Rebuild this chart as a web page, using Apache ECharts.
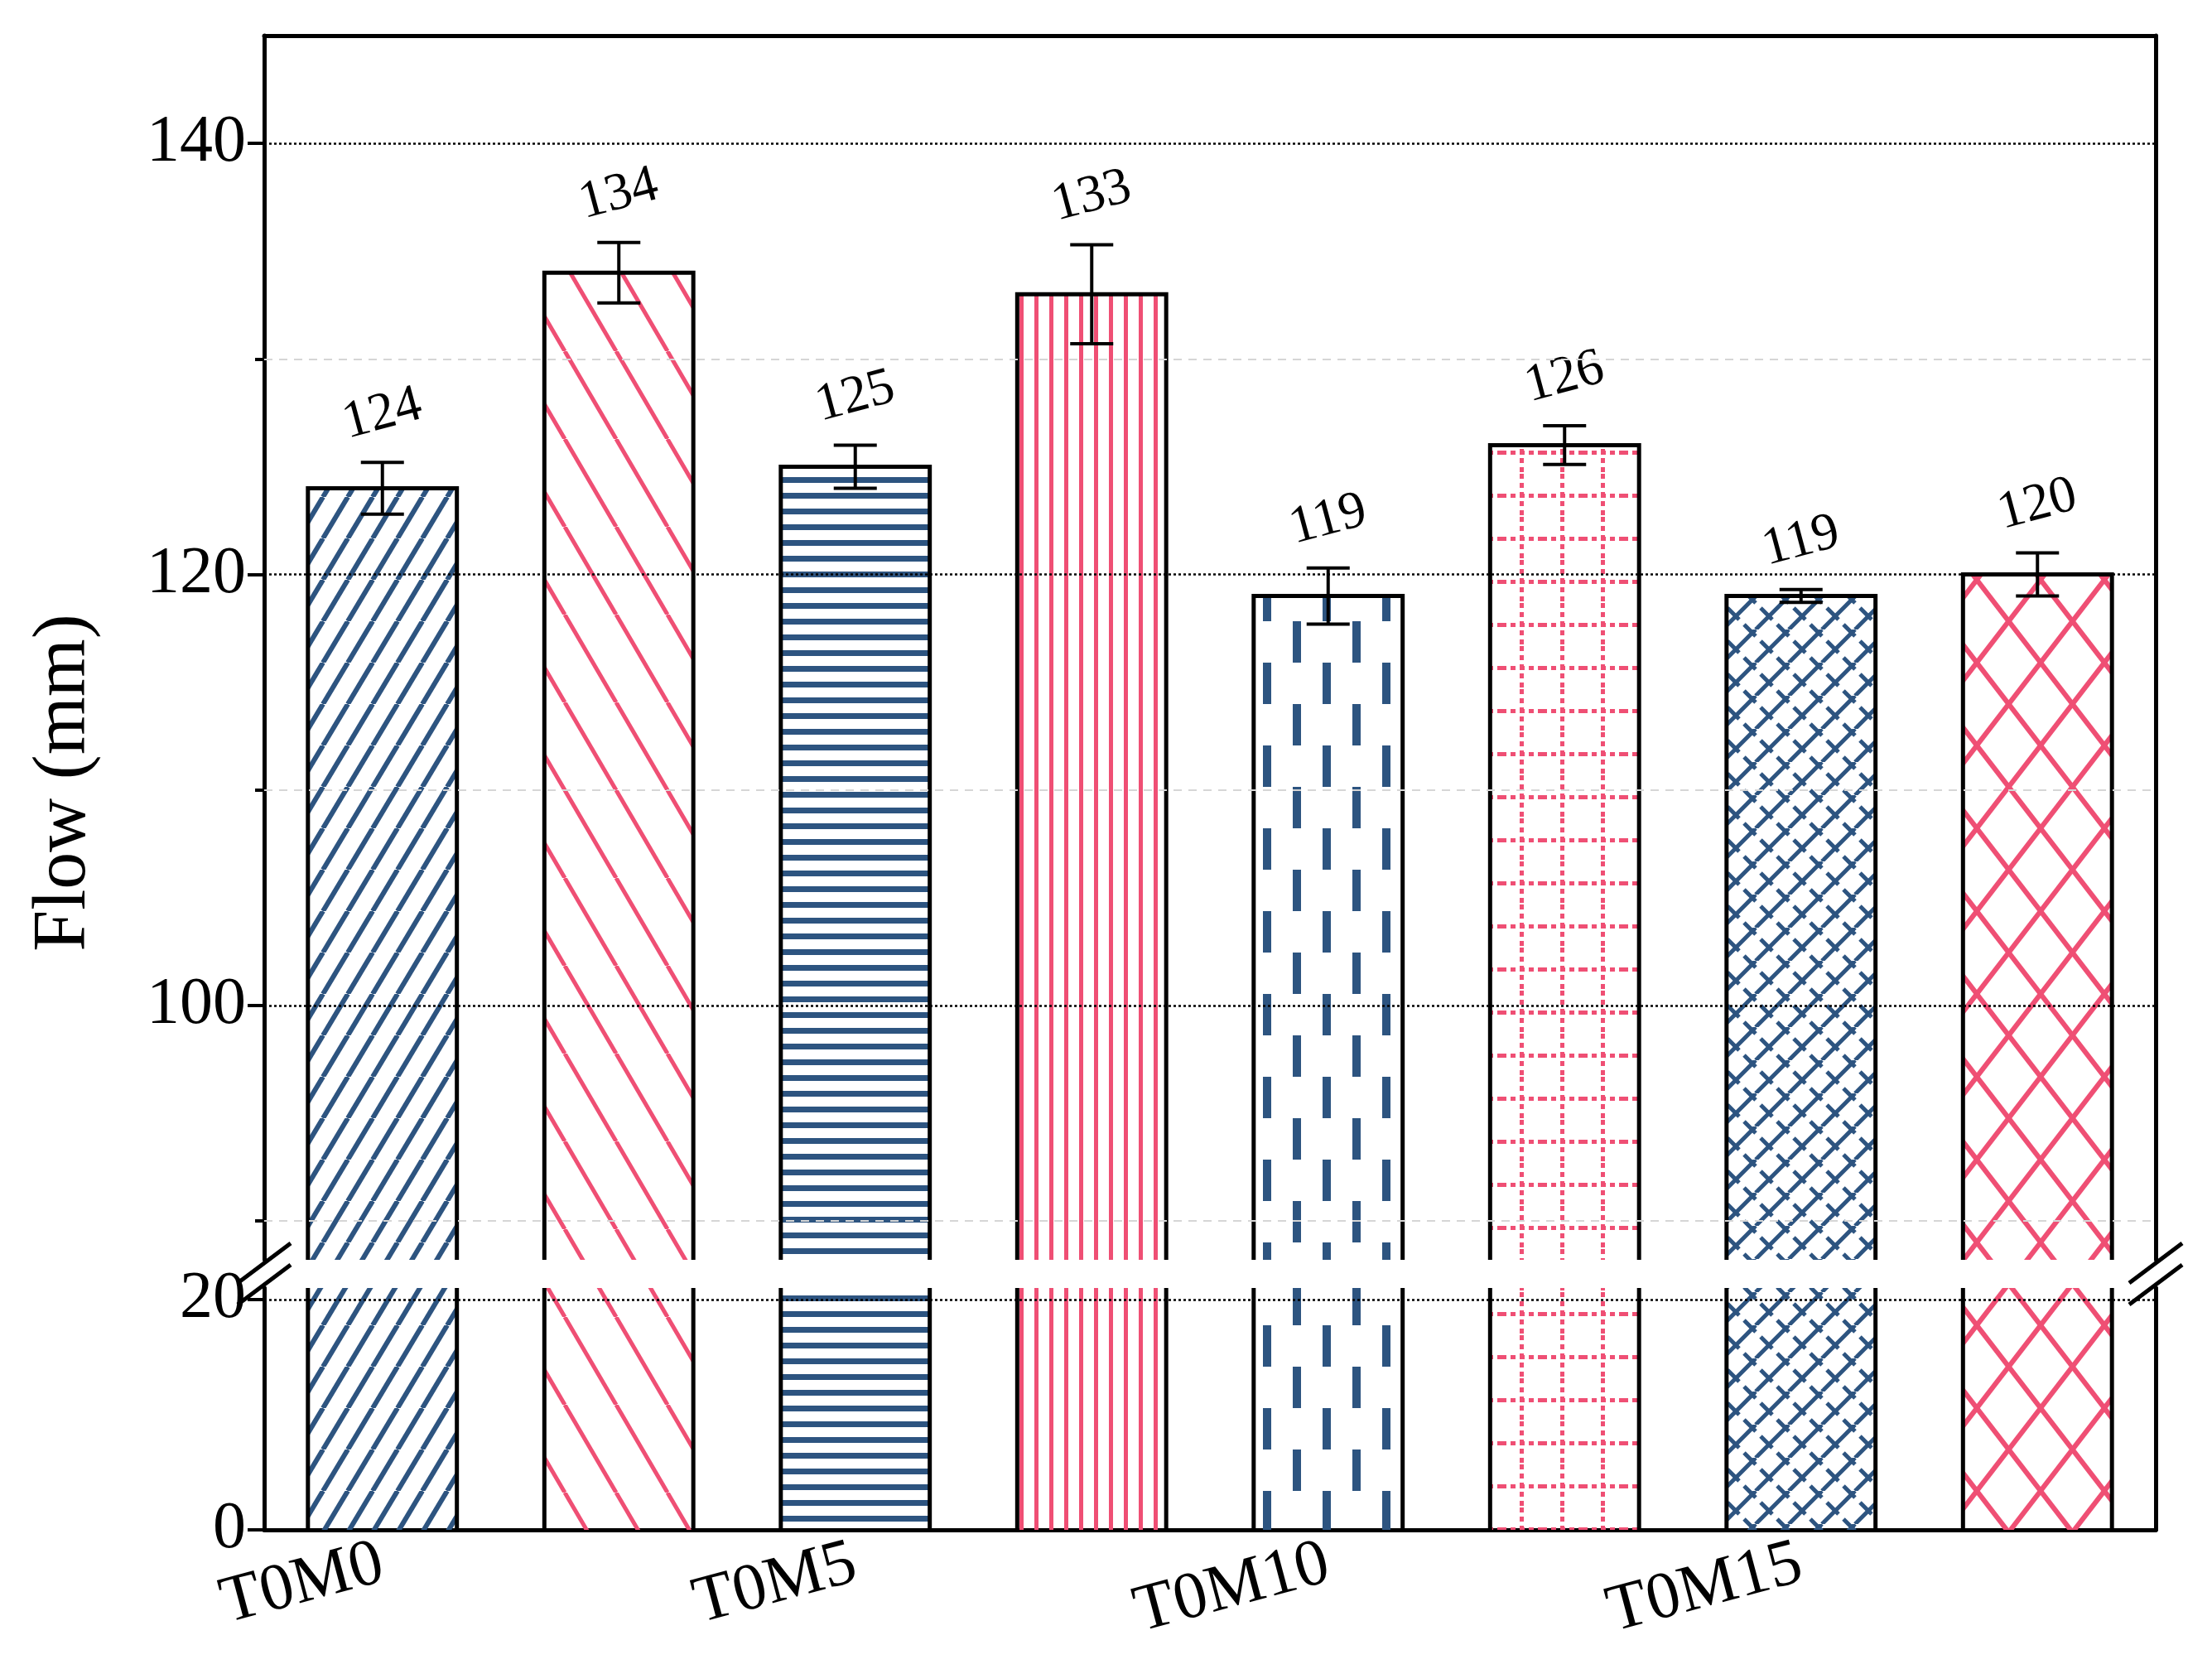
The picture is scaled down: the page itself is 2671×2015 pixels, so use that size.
<!DOCTYPE html>
<html><head><meta charset="utf-8">
<script src="https://cdn.jsdelivr.net/npm/echarts@6/dist/echarts.min.js"></script>
<style>html,body{margin:0;padding:0;background:#fff}#c{width:2671px;height:2015px}</style>
</head><body><div id="c"></div>
<script>
const categories = ['T0M0','T2M0','T0M5','T2M5','T0M10','T2M10','T0M15','T2M15'];
const values = [124,134,125,133,119,126,119,120];
const errors = [1.2,1.4,1.0,2.3,1.3,0.9,0.3,1.0];
const upperMajorTicks = [100,120,140];
const upperMinorTicks = [90,110,130];
const lowerTicks = [0,20];

const FONT = "'Liberation Serif', 'Times New Roman', serif";
const BLUE = '#2d5480', PINK = '#ef4f74';
function mk(w,h,draw){const c=document.createElement('canvas');c.width=w;c.height=h;const g=c.getContext('2d');draw(g,w,h);return c;}
function ln(g,pts,col,lw){g.strokeStyle=col;g.lineWidth=lw;g.beginPath();g.moveTo(pts[0],pts[1]);g.lineTo(pts[2],pts[3]);g.stroke();}
const patterns = [
  mk(30,50,(g,w,h)=>{for(const o of [-1,0,1]){ln(g,[o*w,h,o*w+w,0],BLUE,6);}}),
  mk(62,106,(g,w,h)=>{for(const o of [-1,0,1]){ln(g,[o*w,0,o*w+w,h],PINK,5);}}),
  mk(20,19,(g,w,h)=>{g.fillStyle=BLUE;g.fillRect(0,6,w,7);}),
  mk(18,20,(g,w,h)=>{g.fillStyle=PINK;g.fillRect(7,0,5,h);}),
  mk(72,100,(g,w,h)=>{g.fillStyle=BLUE;g.fillRect(13,0,10,50);g.fillRect(49,50,10,50);}),
  mk(49,52,(g,w,h)=>{g.fillStyle=PINK;for(let x=0;x<w;x+=11)g.fillRect(x,24,6,5);for(let y=0;y<h;y+=11)g.fillRect(22,y,5,6);}),
  mk(40,40,(g,w,h)=>{for(const o of [-1,0,1]){ln(g,[o*w,h,o*w+w,0],BLUE,5);}ln(g,[6,14,20,28],BLUE,5);ln(g,[26,-6,40,8],BLUE,5);ln(g,[26,34,40,48],BLUE,5);ln(g,[-14,-6,0,8],BLUE,5);ln(g,[-14,34,0,48],BLUE,5);}),
  mk(77,100,(g,w,h)=>{for(const o of [-1,0,1]){ln(g,[o*w,0,o*w+w,h],PINK,6);ln(g,[o*w,h,o*w+w,0],PINK,6);}})
];

const txt = {fontFamily:FONT,color:'#000'};
function barItem(lo,hi,sides){
  return function(params,api){
    const i=api.value(0), v=api.value(1);
    const top=api.coord([i,Math.min(v,hi)]), bot=api.coord([i,lo]);
    const w=api.size([1,0])[0]*0.63;
    const x0=top[0]-w/2, x1=top[0]+w/2;
    const ch=[{type:'rect',shape:{x:x0,y:top[1],width:w,height:bot[1]-top[1]},style:{fill:{image:patterns[i],repeat:'repeat'}}}];
    if(sides==='upper'){
      ch.push({type:'polyline',shape:{points:[[x0,bot[1]],[x0,top[1]],[x1,top[1]],[x1,bot[1]]]},style:{stroke:'#000',lineWidth:5,fill:null}});
      const e=errors[i], a=api.coord([i,v+e]), b=api.coord([i,v-e]);
      ch.push({type:'line',shape:{x1:a[0],y1:a[1],x2:b[0],y2:b[1]},style:{stroke:'#000',lineWidth:4}});
      ch.push({type:'line',shape:{x1:a[0]-26,y1:a[1],x2:a[0]+26,y2:a[1]},style:{stroke:'#000',lineWidth:4}});
      ch.push({type:'line',shape:{x1:b[0]-26,y1:b[1],x2:b[0]+26,y2:b[1]},style:{stroke:'#000',lineWidth:4}});
      ch.push({type:'text',x:a[0],y:a[1]-58,rotation:15*Math.PI/180,style:{text:String(v),fontFamily:FONT,fontSize:64,fill:'#000',align:'center',verticalAlign:'middle'}});
    } else {
      ch.push({type:'polyline',shape:{points:[[x0,top[1]],[x0,bot[1]]]},style:{stroke:'#000',lineWidth:5,fill:null}});
      ch.push({type:'polyline',shape:{points:[[x1,top[1]],[x1,bot[1]]]},style:{stroke:'#000',lineWidth:5,fill:null}});
    }
    return {type:'group',children:ch};
  };
}
const data = categories.map((c,i)=>[i,values[i]]);
function gl(v,type,col,w){return {yAxis:v,lineStyle:{type:type,color:col,width:w}};}
const mlUpper = {silent:true,symbol:'none',label:{show:false},data:[
  ...upperMajorTicks.map(v=>gl(v,[3,3],'#000',2.5)),
  ...upperMinorTicks.map(v=>gl(v,[10,8],'#d6d6d6',2))]};
const mlLower = {silent:true,symbol:'none',label:{show:false},data:[gl(20,[3,3],'#000',2.5)]};

const L=319,R=2603,T=43,UB=1521,LT=1555,B=1847;
const axLine={show:true,lineStyle:{color:'#000',width:5}};
const opt = {
  animation:false,
  grid:[{left:L,right:2671-R,top:T,bottom:2015-UB},{left:L,right:2671-R,top:LT,bottom:2015-B}],
  xAxis:[
    {type:'category',data:categories,gridIndex:0,position:'top',axisLine:axLine,axisTick:{show:false},axisLabel:{show:false}},
    {type:'category',data:categories,gridIndex:1,position:'bottom',axisLine:axLine,axisTick:{show:false},
     axisLabel:{...txt,fontSize:80,rotate:15,margin:40}}
  ],
  yAxis:[
    {type:'value',gridIndex:0,min:88.2,max:145,position:'left',axisLine:axLine,splitLine:{show:false},
     axisTick:{show:true,length:20,lineStyle:{width:4,color:'#000'},customValues:upperMajorTicks},
     axisLabel:{...txt,fontSize:80,margin:22,customValues:upperMajorTicks}},
    {type:'value',gridIndex:0,min:88.2,max:145,position:'left',axisLine:{show:false},splitLine:{show:false},
     axisTick:{show:true,length:11,lineStyle:{width:4,color:'#000'},customValues:upperMinorTicks},axisLabel:{show:false}},
    {type:'value',gridIndex:0,min:88.2,max:145,position:'right',axisLine:axLine,splitLine:{show:false},axisTick:{show:false},axisLabel:{show:false}},
    {type:'value',gridIndex:1,min:0,max:21,position:'left',axisLine:axLine,splitLine:{show:false},
     axisTick:{show:true,length:20,lineStyle:{width:4,color:'#000'},customValues:lowerTicks},
     axisLabel:{...txt,fontSize:80,margin:22,customValues:lowerTicks}},
    {type:'value',gridIndex:1,min:0,max:21,position:'right',axisLine:axLine,splitLine:{show:false},axisTick:{show:false},axisLabel:{show:false}}
  ],
  series:[
    {type:'custom',xAxisIndex:0,yAxisIndex:0,data:data,renderItem:barItem(88.2,145,'upper'),markLine:mlUpper,clip:false,z:3},
    {type:'custom',xAxisIndex:1,yAxisIndex:3,data:data,renderItem:barItem(0,21,'lower'),markLine:mlLower,z:3}
  ],
  graphic:[
    {type:'text',x:78,y:945,rotation:Math.PI/2,style:{text:'Flow (mm)',fontFamily:FONT,fontSize:90,fill:'#000',align:'center',verticalAlign:'middle'}},
    ...[L,R].flatMap(x=>[UB+4,LT-4].map(y=>({type:'line',z:10,shape:{x1:x-32,y1:y+24,x2:x+32,y2:y-24},style:{stroke:'#000',lineWidth:5}}))),
    ...[L,R].map(x=>({type:'rect',z:9,shape:{x:x-6,y:UB+3,width:12,height:LT-UB-6},style:{fill:'#fff'}}))
  ]
};
echarts.init(document.getElementById('c')).setOption(opt);
</script></body></html>
